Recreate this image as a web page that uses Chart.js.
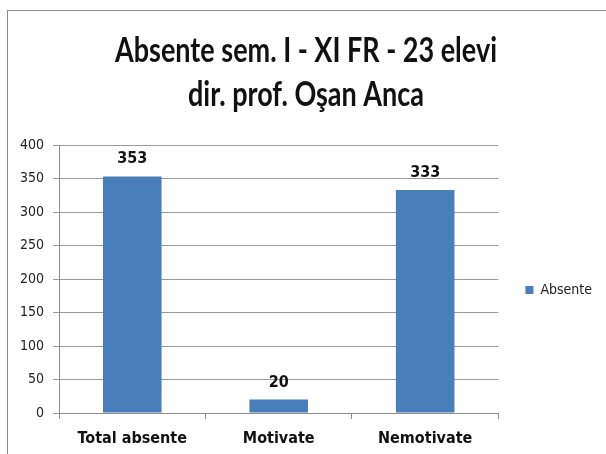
<!DOCTYPE html>
<html>
<head>
<meta charset="utf-8">
<script src="https://cdn.jsdelivr.net/npm/chart.js@4"></script>
<style>
  html, body { margin: 0; padding: 0; background: #fff; overflow: hidden; }
  #wrap { position: relative; width: 606px; height: 454px; }
  #frame {
    position: absolute; left: 7px; top: 10px; width: 640px; height: 480px;
    border: 1px solid #8c8c8c; box-sizing: border-box;
  }
  #absChart { position: absolute; left: 0; top: 0; }
</style>
</head>
<body>
<div id="wrap">
  <div id="frame"></div>
  <canvas id="absChart" width="606" height="454"></canvas>
</div>
<script>
const categories = ["Total absente", "Motivate", "Nemotivate"];
const absente = [353, 20, 333];
const titleLines = ["Absente sem. I - XI FR - 23 elevi", "dir. prof. Oşan Anca"];

const narrow = "'DejaVu Sans Condensed', 'Liberation Sans', sans-serif";

// two-line heading, squeezed horizontally so it reads like a condensed face
const heading = {
  id: "heading",
  afterDraw(chart) {
    const ctx = chart.ctx;
    ctx.save();
    ctx.font = "bold 35px Lato, 'Open Sans', sans-serif";
    ctx.fillStyle = "#111";
    ctx.textAlign = "center";
    ctx.textBaseline = "alphabetic";
    const sx = 382 / ctx.measureText(titleLines[0]).width;
    const cx = 306;
    const baselines = [62, 106];
    titleLines.forEach((line, i) => {
      ctx.save();
      ctx.translate(cx, baselines[i]);
      ctx.scale(sx, 1);
      ctx.fillText(line, 0, 0);
      ctx.restore();
    });
    ctx.restore();
  }
};

// writes the value above each bar
const barValues = {
  id: "barValues",
  afterDatasetsDraw(chart) {
    const ctx = chart.ctx;
    ctx.save();
    ctx.font = "bold 16px " + narrow;
    ctx.fillStyle = "#111";
    ctx.textAlign = "center";
    ctx.textBaseline = "alphabetic";
    chart.getDatasetMeta(0).data.forEach((bar, i) => {
      ctx.fillText(String(absente[i]), bar.x, bar.y - 13);
    });
    ctx.restore();
  }
};

new Chart(document.getElementById("absChart").getContext("2d"), {
  type: "bar",
  data: {
    labels: categories,
    datasets: [{
      label: "Absente",
      data: absente,
      backgroundColor: "#4a7ebb",
      categoryPercentage: 0.4,
      barPercentage: 1
    }]
  },
  options: {
    responsive: false,
    animation: false,
    layout: { padding: { left: 11, right: 4, top: 145, bottom: -5 } },
    plugins: {
      title: { display: false },
      legend: {
        position: "right",
        fullSize: false,
        // empty legend title only nudges the single entry down a little
        title: { display: true, text: " ", font: { size: 10, lineHeight: 1.2 }, padding: { top: 10, bottom: 0 } },
        labels: {
          boxWidth: 8,
          boxHeight: 8,
          padding: 27,
          color: "#222",
          font: { family: narrow, size: 14 }
        }
      },
      tooltip: { enabled: false }
    },
    scales: {
      x: {
        grid: { drawOnChartArea: false, drawTicks: true, tickLength: 6, color: "#8c8c8c" },
        border: { color: "#8c8c8c" },
        ticks: { color: "#111", font: { family: narrow, size: 16, weight: "bold", lineHeight: 1 }, padding: 12 }
      },
      y: {
        min: 0,
        max: 400,
        ticks: { stepSize: 50, color: "#222", font: { family: narrow, size: 14 }, padding: 9 },
        grid: { color: "#9a9a9a", tickLength: 6 },
        border: { color: "#8c8c8c" }
      }
    }
  },
  plugins: [barValues, heading]
});
</script>
</body>
</html>
